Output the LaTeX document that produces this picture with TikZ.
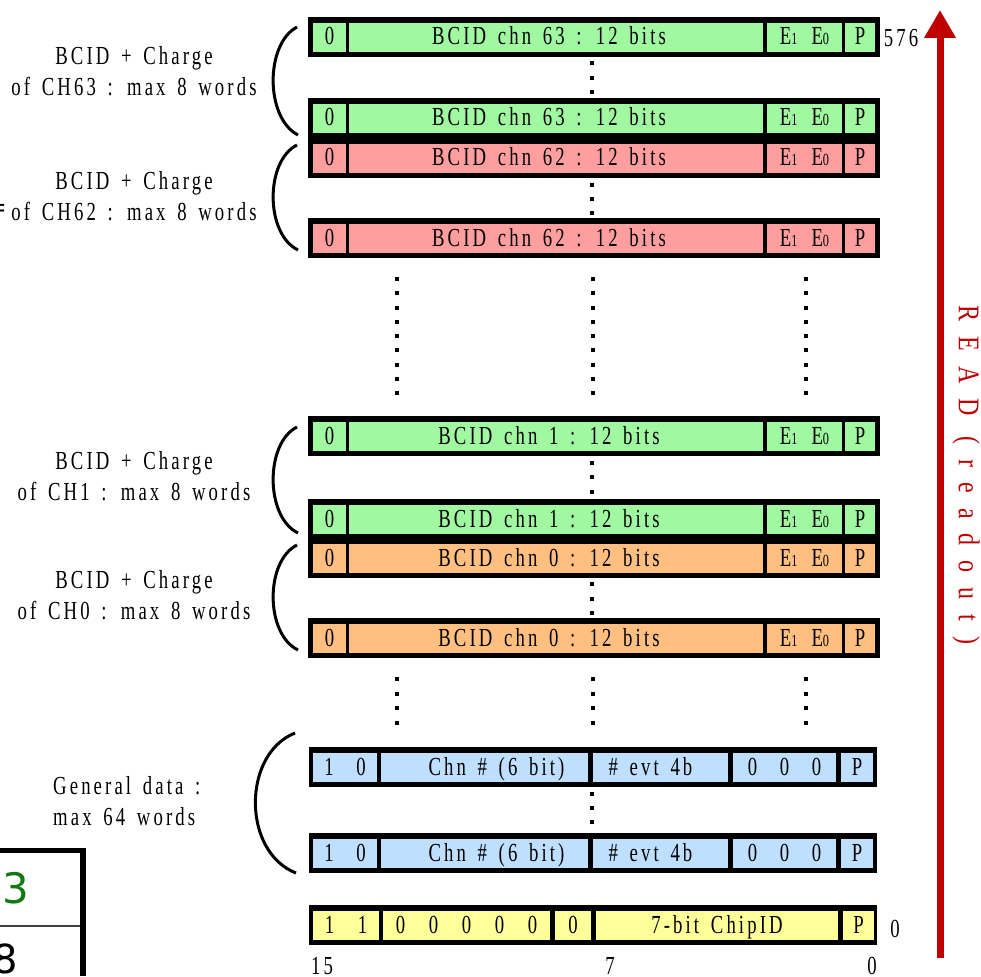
\documentclass[tikz,border=0pt]{standalone}
\usepackage{fontspec}
\setmainfont{Liberation Serif}
\newfontfamily\tf[FakeStretch=0.72,LetterSpace=12,WordSpace=1.5]{Liberation Serif}
\newfontfamily\rf[FakeStretch=0.8,LetterSpace=50]{Liberation Serif}
\newfontfamily\vf{DejaVu Sans}
\usetikzlibrary{arrows.meta}
\definecolor{cgreen}{HTML}{A0F8A0}
\definecolor{cpink}{HTML}{FF9E9E}
\definecolor{corange}{HTML}{FFBF80}
\definecolor{cblue}{HTML}{BFDFFF}
\definecolor{cyellow}{HTML}{FFFF99}
\definecolor{cred}{HTML}{C00000}
\definecolor{tgreen}{HTML}{107A10}
\newcommand\cellfont{\tf\fontsize{26}{28}\selectfont}
\newcommand\subf{\tf\fontsize{17}{18}\selectfont}
\newcommand\dt[2]{\fill (#1-2,#2-2) rectangle (#1+2,#2+2);}
\newcommand\bcidrow[4]{%
  \fill[black] (308,#2) rectangle (880,#2+40);
  \node[cell,fill=#3,minimum width=33pt] (#1z) at (313,#2+6) {0};
  \node[cell,fill=#3,minimum width=414pt] (#1b) at (349,#2+6) {BCID chn #4 : 12 bits\hspace*{14pt}};
  \node[cell,fill=#3,minimum width=75pt] (#1e) at (767,#2+6) {E{\subf 1}\hspace{14pt}E{\subf 0}};
  \node[cell,fill=#3,minimum width=30pt] (#1p) at (845,#2+6) {P};
}
\newcommand\genrow[2]{%
  \fill[black] (309,#2) rectangle (877,#2+40);
  \node[cell,fill=cblue,minimum width=64pt] (#1a) at (313,#2+6) {\makebox[32pt]{1}\makebox[32pt]{0}};
  \node[cell,fill=cblue,minimum width=207pt] (#1b) at (381,#2+6) {\hspace*{24pt}Chn \# (6 bit)};
  \node[cell,fill=cblue,minimum width=135pt] (#1c) at (593,#2+6) {\# evt 4b\hspace*{20pt}};
  \node[cell,fill=cblue,minimum width=103pt] (#1d) at (733,#2+6) {\makebox[32pt]{0}\makebox[32pt]{0}\makebox[32pt]{0}};
  \node[cell,fill=cblue,minimum width=32pt] (#1p) at (841,#2+6) {P};
}
\begin{document}
\begin{tikzpicture}[x=1pt,y=-1pt,
  cell/.style={anchor=north west,inner sep=0pt,outer sep=0pt,minimum height=29pt,
    text height=18pt,text depth=3pt,font=\cellfont},
  lab/.style={align=center,inner sep=0pt,font=\tf\fontsize{26}{31}\selectfont},
  num/.style={inner sep=0pt,font=\tf\fontsize{26}{28}\selectfont},
  brace/.style={line width=3pt}]
\useasboundingbox (0,0) rectangle (981,976);
\clip (0,0) rectangle (981,976);

% table fragment, bottom left
\draw[line width=5pt] (0,850) -- (86,850);
\draw[line width=6pt] (83,848) -- (83,976);
\draw[line width=1.5pt,black!75] (0,926) -- (80,926);
\node[anchor=base east,inner sep=0pt,font=\vf\fontsize{42}{44}\selectfont,text=tgreen] (t13) at (29,903) {13};
\node[anchor=base east,inner sep=0pt,font=\vf\fontsize{40}{42}\selectfont] (t8) at (18,973) {8};
\node[anchor=east,inner sep=0pt,font=\bfseries\fontsize{28}{28}\selectfont] (frag) at (6,211) {=};

% BCID rows
\bcidrow{aa}{17}{cgreen}{63}
\bcidrow{ab}{98}{cgreen}{63}
\bcidrow{ba}{138}{cpink}{62}
\bcidrow{bb}{218}{cpink}{62}
\bcidrow{ca}{416}{cgreen}{1}
\bcidrow{cb}{499}{cgreen}{1}
\bcidrow{da}{538}{corange}{0}
\bcidrow{db}{618}{corange}{0}

% general data rows
\genrow{ea}{747}
\genrow{eb}{833}

% chip id row
\fill[black] (309,905) rectangle (877,945);
\node[cell,fill=cyellow,minimum width=64pt] (fa) at (313,911) {\makebox[33pt]{1}\makebox[33pt]{1}};
\node[cell,fill=cyellow,minimum width=167pt] (fb) at (383,911) {\makebox[33pt]{0}\makebox[33pt]{0}\makebox[33pt]{0}\makebox[33pt]{0}\makebox[33pt]{0}};
\node[cell,fill=cyellow,minimum width=36pt] (fc) at (555,911) {0};
\node[cell,fill=cyellow,minimum width=242pt] (fd) at (596,911) {7-bit ChipID};
\node[cell,fill=cyellow,minimum width=31pt] (fp) at (843,911) {P};

% dots between duplicated rows
\foreach \y in {63,78,92, 185,199,213, 463,477,492, 584,599,613, 794,808,822} {\dt{592}{\y}}
% long dotted columns
\foreach \x in {397,593,806} {
  \foreach \i in {0,...,8} {\dt{\x}{279+14.25*\i}}
  \foreach \y in {679,694,708,723} {\dt{\x}{\y}}
}

% braces
\draw[brace] (297,27) .. controls (265,44) and (265,118) .. (298,135);
\draw[brace] (297,145) .. controls (265,161) and (265,234) .. (298,250);
\draw[brace] (297,427) .. controls (265,443) and (265,517) .. (298,533);
\draw[brace] (297,545) .. controls (265,561) and (265,634) .. (298,650);
\draw[brace] (295,733) .. controls (242,754) and (242,852) .. (296,873);

% labels
\node[lab] (la) at (134,71) {BCID + Charge\\of CH63 : max 8 words};
\node[lab] (lb) at (134,196) {BCID + Charge\\of CH62 : max 8 words};
\node[lab] (lc) at (134,476) {BCID + Charge\\of CH1 : max 8 words};
\node[lab] (ld) at (134,595) {BCID + Charge\\of CH0 : max 8 words};
\node[lab,align=left,anchor=west] (le) at (53,801) {General data :\\max 64 words};

% bit numbers
\node[num] (n576) at (901,38) {576};
\node[num] (n0r) at (895,929) {0};
\node[num] (n15) at (322,966) {15};
\node[num] (n7) at (610,966) {7};
\node[num] (n0) at (872,966) {0};

% read arrow
\coordinate (rb) at (940,958);
\coordinate (rt) at (940,10);
\draw[line width=7pt,draw=cred,-{Triangle[width=30pt,length=28pt]}] (rb) -- (rt);
\node[rotate=-90,inner sep=0pt,text=cred,font=\rf\fontsize{30}{32}\selectfont] (read) at (966,475) {READ (readout)};
\end{tikzpicture}
\end{document}
